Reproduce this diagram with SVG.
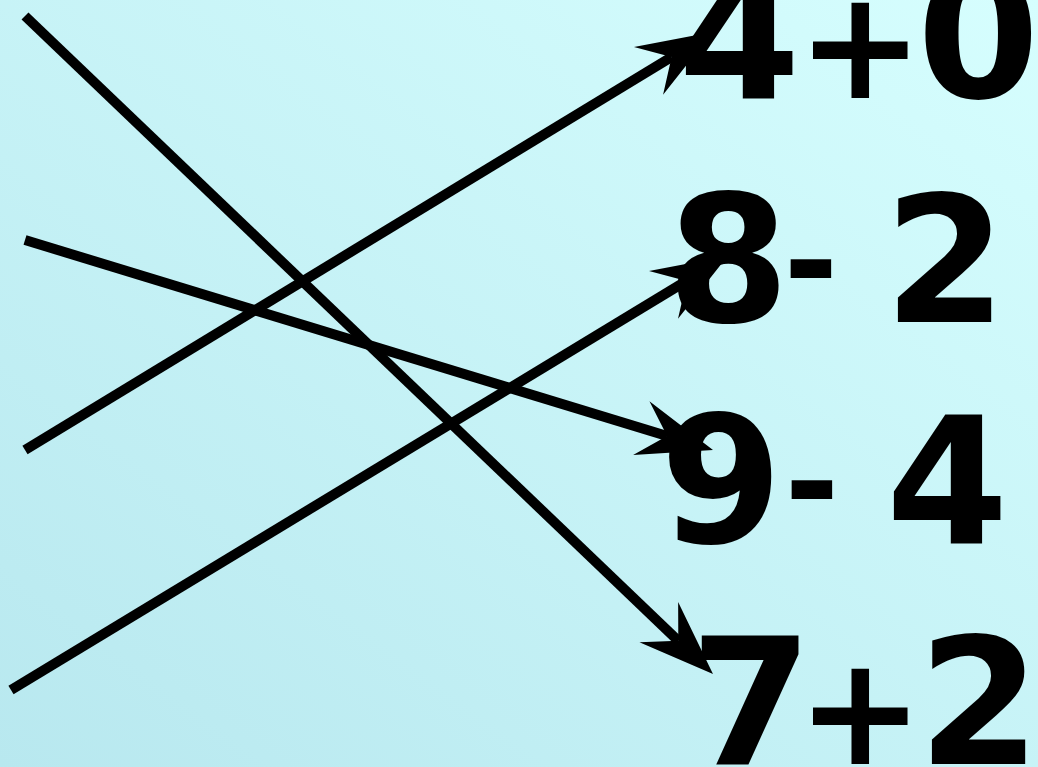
<svg xmlns="http://www.w3.org/2000/svg" width="1038" height="767" viewBox="0 0 1038 767">
  <defs>
    <linearGradient id="bg" x1="0" y1="1" x2="1" y2="0">
      <stop offset="0" stop-color="#b8e8ef"/>
      <stop offset="1" stop-color="#d6fefe"/>
    </linearGradient>
    <marker id="arrow" markerUnits="userSpaceOnUse" orient="auto" refX="0" refY="0" markerWidth="10" markerHeight="10" overflow="visible">
      <path d="M48,0 L-27,-28 L0,0 L-27,28 Z" fill="#000"/>
    </marker>
    <style>
      .line { fill: none; stroke: #000; stroke-width: 10; stroke-linecap: butt; marker-end: url(#arrow); }
      .label { font-family: "DejaVu Sans", sans-serif; font-weight: bold; font-size: 176px; fill: #000; }
      .op { font-size: 151px; }
      .dash { font-size: 132px; }
    </style>
  </defs>
  <rect x="0" y="0" width="1038" height="767" fill="url(#bg)"/>
  <g id="connectors">
    <line class="line" x1="25" y1="16" x2="678.3" y2="640.8"/>
    <line class="line" x1="25" y1="240" x2="667.1" y2="436"/>
    <line class="line" x1="25" y1="450" x2="671.6" y2="56.9"/>
    <line class="line" x1="11" y1="690" x2="686.6" y2="280.9"/>
  </g>
  <g id="node-4plus0"><text class="label" y="98"><tspan x="678">4</tspan><tspan class="op" x="797">+</tspan><tspan x="917">0</tspan></text></g>
  <g id="node-8minus2"><text class="label" y="322"><tspan x="667">8</tspan><tspan class="dash" x="783.5" dy="-15">-</tspan><tspan dy="15"> </tspan><tspan x="884">2</tspan></text></g>
  <g id="node-9minus4"><text class="label" y="543"><tspan x="660">9</tspan><tspan class="dash" x="784.5" dy="-15">-</tspan><tspan dy="15"> </tspan><tspan x="886">4</tspan></text></g>
  <g id="node-7plus2"><text class="label" y="764"><tspan x="690">7</tspan><tspan class="op" x="797">+</tspan><tspan x="918">2</tspan></text></g>
</svg>
